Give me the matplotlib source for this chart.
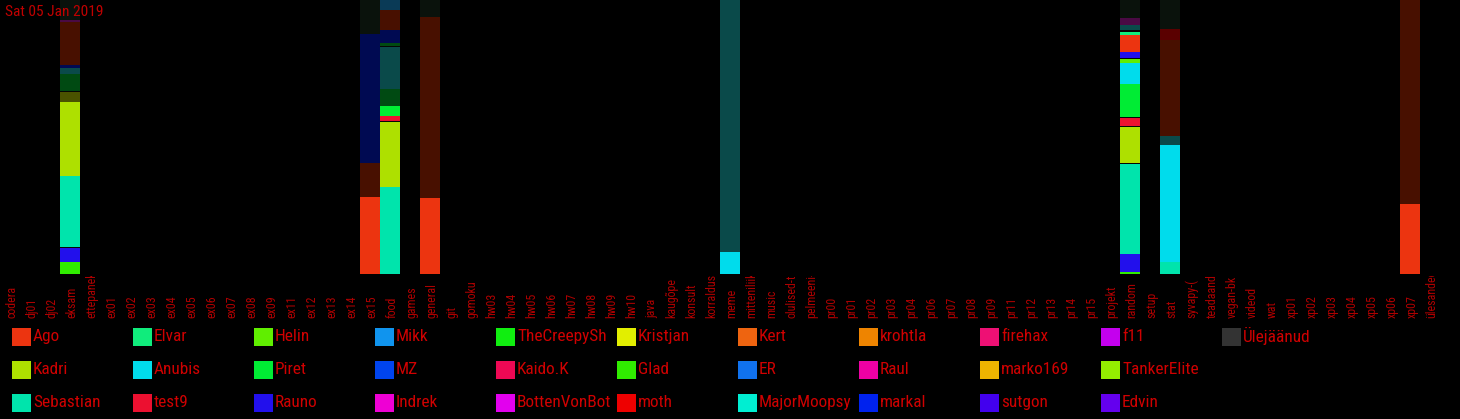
import matplotlib
matplotlib.use("Agg")   # headless
import matplotlib.pyplot as plt
from matplotlib import font_manager
from matplotlib.transforms import Bbox, TransformedBbox, blended_transform_factory

W, H = 1460, 419


def pick_font():
    """Use a narrow face when one is installed, else DejaVu Sans."""
    for name in ["Roboto Condensed", "Liberation Sans Narrow", "Open Sans Condensed",
                 "DejaVu Sans Condensed", "Noto Sans Condensed"]:
        try:
            font_manager.findfont(font_manager.FontProperties(family=name),
                                  fallback_to_default=False)
            return name, "normal"
        except ValueError:
            continue
    fp = font_manager.FontProperties(family="DejaVu Sans", stretch="condensed")
    if "ondensed" in font_manager.findfont(fp):
        return "DejaVu Sans", "condensed"
    return "DejaVu Sans", "normal"


FAMILY, STRETCH = pick_font()
plt.rcParams["font.family"] = [FAMILY, "DejaVu Sans"]
plt.rcParams["font.stretch"] = STRETCH

title = "Sat 05 Jan 2019"

channels = [
    "codera", "dj01", "dj02", "eksam", "ettepanek", "ex01", "ex02", "ex03",
    "ex04", "ex05", "ex06", "ex07", "ex08", "ex09", "ex11", "ex12", "ex13",
    "ex14", "ex15", "food", "games", "general", "git", "gomoku", "hw03",
    "hw04", "hw05", "hw06", "hw07", "hw08", "hw09", "hw10", "java", "kaugõpe",
    "konsult", "korraldus", "meme", "mitteniliik", "music", "olulised-ti",
    "pelmeeni-", "pr00", "pr01", "pr02", "pr03", "pr04", "pr06", "pr07",
    "pr08", "pr09", "pr11", "pr12", "pr13", "pr14", "pr15", "projekt",
    "random", "setup", "stat", "syvapy-(", "teadaand", "vegan-bk", "videod",
    "wat", "xp01", "xp02", "xp03", "xp04", "xp05", "xp06", "xp07",
    "ülesandec",
]

# legend, column by column (3 rows)
legend_users = [
    "Ago", "Kadri", "Sebastian",
    "Elvar", "Anubis", "test9",
    "Helin", "Piret", "Rauno",
    "Mikk", "MZ", "Indrek",
    "TheCreepySh", "Kaido.K", "BottenVonBot",
    "Kristjan", "Glad", "moth",
    "Kert", "ER", "MajorMoopsy",
    "krohtla", "Raul", "markal",
    "firehax", "marko169", "sutgon",
    "f11", "TankerElite", "Edvin",
    "Ülejäänud",
]

user_colors = {
    "Ago": "#ec3410", "Kadri": "#aee000", "Sebastian": "#00e4ac",
    "Elvar": "#10ec7c", "Anubis": "#00dcec", "test9": "#ec1030",
    "Helin": "#60ee00", "Piret": "#00ec34", "Rauno": "#2210ec",
    "Mikk": "#1094ee", "MZ": "#0044ee", "Indrek": "#ee00d4",
    "TheCreepySh": "#10ee10", "Kaido.K": "#ee0854", "BottenVonBot": "#e200ee",
    "Kristjan": "#e2ee00", "Glad": "#30ec00", "moth": "#ee0000",
    "Kert": "#ee6410", "ER": "#1072ee", "MajorMoopsy": "#00eed2",
    "krohtla": "#ee8400", "Raul": "#ee00a4", "markal": "#0022ee",
    "firehax": "#ee1074", "marko169": "#eeb400", "sutgon": "#4200ee",
    "f11": "#c400ee", "TankerElite": "#94ee00", "Edvin": "#6400ee",
    "Ülejäänud": "#333333",
}

# users outside the legend (drawn dark)
other_colors = {
    "muu_hall": "#0a120c", "muu_punane": "#481000", "muu_navy": "#000a52",
    "muu_teal": "#0a4a4a", "muu_roheline": "#004a12", "muu_oliiv": "#4a5200",
    "muu_lilla": "#4a0a44", "muu_must": "#050505", "muu_sinine": "#0a3a56",
    "muu_veinipunane": "#5a0000",
}

# shares per channel, bottom to top
eksam = [("Glad", 12), ("Rauno", 14), ("muu_must", 1), ("Sebastian", 71),
         ("Kadri", 74), ("muu_oliiv", 10), ("muu_must", 1), ("muu_roheline", 17),
         ("muu_teal", 6), ("muu_navy", 3), ("muu_punane", 43), ("muu_lilla", 2),
         ("muu_hall", 20)]
ex15 = [("Ago", 77), ("muu_punane", 34), ("muu_navy", 129), ("muu_hall", 34)]
food = [("Sebastian", 87), ("Kadri", 65), ("muu_must", 1), ("test9", 5),
        ("Piret", 10), ("muu_roheline", 17), ("muu_teal", 42), ("muu_must", 1),
        ("muu_roheline", 3), ("muu_navy", 13), ("muu_punane", 20), ("muu_sinine", 10)]
general = [("Ago", 76), ("muu_punane", 181), ("muu_hall", 17)]
meme = [("Anubis", 22), ("muu_teal", 252)]
random_ch = [("Glad", 2), ("Rauno", 18), ("Sebastian", 90), ("muu_must", 1),
             ("Kadri", 36), ("muu_must", 1), ("test9", 8), ("muu_must", 1),
             ("Piret", 33), ("Anubis", 21), ("Helin", 4), ("muu_must", 1),
             ("Rauno", 6), ("Ago", 17), ("Elvar", 3), ("muu_must", 2),
             ("muu_teal", 5), ("muu_lilla", 7), ("muu_hall", 18)]
stat = [("Sebastian", 12), ("Anubis", 117), ("muu_teal", 9), ("muu_punane", 96),
        ("muu_veinipunane", 11), ("muu_hall", 29)]
xp07 = [("Ago", 70), ("muu_punane", 204)]

channel_data = {
    "eksam": eksam, "ex15": ex15, "food": food, "general": general,
    "meme": meme, "random": random_ch, "stat": stat, "xp07": xp07,
}

colors = {**user_colors, **other_colors}

fig = plt.figure(figsize=(W / 100, H / 100), dpi=100, facecolor="black")
renderer = fig.canvas.get_renderer()


def fit_size(sample, target_px, max_size):
    # font size that gives `sample` about target_px of width
    t = fig.text(0, 0, sample, fontsize=10)
    w = t.get_window_extent(renderer).width
    t.remove()
    return min(max_size, 10 * target_px / w)


label_size = fit_size("codera", 32, 9)
legend_size = fit_size("BottenVonBot", 94, 16)
title_size = fit_size(title, 98, 13)

ax = fig.add_axes([0, 145 / H, 1440 / W, 274 / H])
ax.set_facecolor("black")

for i, ch in enumerate(channels):
    segs = channel_data.get(ch, [])
    total = sum(v for _, v in segs)
    bottom = 0.0
    for user, v in segs:
        h = v / total * 100
        ax.bar(i, h, bottom=bottom, width=1.0, align="edge",
               color=colors[user], linewidth=0)
        bottom += h

ax.set_xlim(0, len(channels))
ax.set_ylim(0, 100)
ax.set_xticks([])
ax.set_yticks([])
for s in ax.spines.values():
    s.set_visible(False)

# channel labels, rotated, anchored at their start
trans = blended_transform_factory(ax.transData, fig.transFigure)
label_clip = TransformedBbox(Bbox([[0, 0], [1, (H - 276) / H]]), fig.transFigure)
for i, ch in enumerate(channels):
    t = ax.text(i + 0.6, (H - 318) / H, ch, transform=trans, rotation=90,
                ha="center", va="bottom", color="#b00000", fontsize=label_size)
    t.set_clip_box(label_clip)
    t.set_clip_on(True)

fig.text(5 / W, 1 - 12 / H, title, color="#c00000", fontsize=title_size,
         ha="left", va="center")

# legend
col_x = [12 + 121 * k for k in range(11)]
row_y = [337, 370, 403]
for n, user in enumerate(legend_users):
    col, row = divmod(n, 3)
    x0 = col_x[col]
    yc = row_y[row]
    fig.patches.append(plt.Rectangle((x0 / W, 1 - (yc + 9) / H), 19 / W, 18 / H,
                                     transform=fig.transFigure,
                                     facecolor=user_colors[user], linewidth=0))
    t = fig.text((x0 + 21) / W, 1 - (yc - 1) / H, user, color="#d00000",
                 fontsize=legend_size, ha="left", va="center")
    clip = TransformedBbox(Bbox([[0, 0], [(x0 + 121) / W, 1]]), fig.transFigure)
    t.set_clip_box(clip)
    t.set_clip_on(True)

fig.savefig("out.png", dpi=100, facecolor="black")
plt.close(fig)
